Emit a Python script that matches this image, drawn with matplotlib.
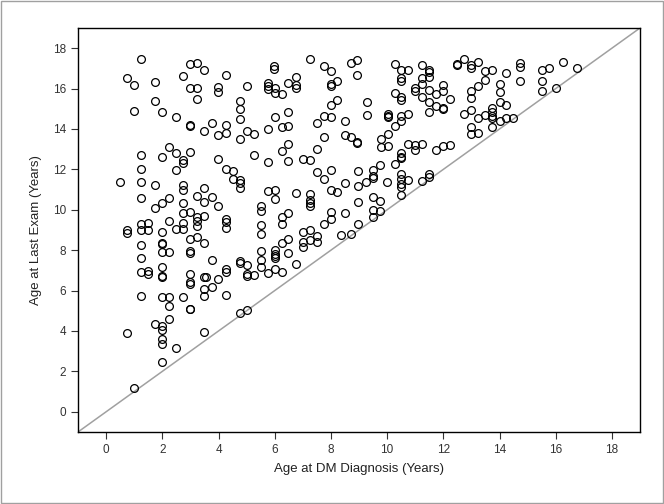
import matplotlib
matplotlib.use('Agg')
import matplotlib.pyplot as plt
from matplotlib.patches import Rectangle

# age at DM diagnosis / age at last exam (years)
age_dx = [
    1.24, 2.98, 3.23, 3.48, 0.75, 0.99, 1.74, 2.73, 2.98, 3.23, 3.97, 3.97,
    1.74, 3.23, 0.99, 1.99, 2.48, 2.98, 2.98, 3.48, 3.76, 3.97, 1.24, 1.99,
    2.24, 2.48, 2.98, 2.73, 2.73, 3.97,
    4.25, 5.00, 5.99, 5.99, 5.75, 5.75, 5.75, 6.01, 6.01, 6.25, 6.49, 6.74,
    6.74, 6.74, 7.24, 7.74, 8.00, 8.73, 8.94, 8.94, 8.00, 8.00, 8.23, 4.76,
    4.76, 4.76, 6.01, 6.49, 8.23, 8.00, 7.74, 8.00, 7.49, 8.50, 6.25, 6.49,
    5.75, 4.25, 4.25, 5.00, 5.25, 4.76, 7.74, 8.50, 8.73, 8.94, 8.94, 6.49,
    6.25, 7.49, 5.25, 5.75, 6.49, 6.99, 7.24,
    10.27, 10.50, 10.75, 11.25, 11.50, 11.50, 10.50, 10.50, 11.25, 11.50,
    11.25, 11.00, 11.00, 11.50, 11.75, 12.00, 12.00, 12.24, 10.27, 10.50,
    10.50, 11.25, 11.50, 11.75, 12.00, 12.00, 11.50, 9.28, 9.28, 10.02,
    10.02, 10.02, 10.50, 10.75, 10.50, 10.27, 10.02, 9.77, 9.77, 10.02,
    10.75, 11.00, 11.25, 11.00, 11.75, 12.00, 12.24, 10.50, 10.50, 10.50,
    9.76, 10.27,
    12.49, 12.49, 12.75, 12.99, 12.99, 13.23, 13.49, 13.73, 13.49, 13.23,
    12.99, 12.99, 12.75, 12.99, 13.23, 13.49, 13.73, 13.73, 13.73, 13.73,
    13.73, 12.99, 12.99, 13.23,
    14.00, 14.00, 14.00, 14.00, 14.23, 14.23, 14.23, 14.48, 14.73, 14.73,
    14.73, 15.51, 15.76, 15.51, 15.51, 16.00, 16.25, 16.75,
    1.24, 2.48, 0.49, 1.24, 1.74, 2.73, 2.73, 3.48, 1.24, 1.74, 1.99, 2.24,
    2.73, 3.23, 3.48, 3.76, 3.97, 2.73, 2.98, 3.23, 3.23, 3.23, 3.48, 2.24,
    2.48, 2.73, 2.73, 1.24, 1.49, 1.24, 1.49, 0.75, 0.75, 1.99, 1.99, 1.99,
    1.24, 2.98, 3.23, 3.48, 1.99, 2.24, 2.98, 2.98, 1.24, 3.76, 1.24, 1.49,
    1.49, 1.99, 1.99, 1.99, 2.98, 2.98, 2.98, 3.48, 3.55, 3.97, 3.48, 3.76,
    1.24, 1.99, 2.24, 2.73, 3.48,
    2.24, 2.98, 2.98, 1.74, 1.99, 2.24, 1.99, 0.75, 3.48, 1.99, 1.99, 2.48,
    1.99, 0.99, 4.76, 5.00,
    4.25, 4.51, 4.51, 4.76, 4.76, 4.76, 5.75, 6.01, 6.01, 6.74, 7.24, 7.24,
    7.24, 7.24, 7.49, 7.74, 8.00, 8.00, 8.23, 8.50, 8.97, 8.97, 8.97, 8.97,
    5.50, 5.50, 6.25, 6.49, 6.25, 5.50, 5.50, 4.25, 4.25, 4.25, 8.00, 8.50,
    7.74, 8.00, 8.35, 8.73, 6.99, 7.24, 7.49, 7.49, 7.24, 6.99, 6.99, 6.49,
    6.25, 5.50, 6.01, 6.01, 6.01, 6.01, 6.49, 5.50, 6.74, 5.50, 4.76, 4.76,
    5.00, 4.25, 4.25, 5.00, 5.00, 5.25, 5.75, 6.01, 6.25, 4.25,
    9.51, 9.51, 9.51, 9.26, 10.00, 10.50, 10.50, 10.75, 10.50, 10.50, 11.25,
    11.50, 11.50, 9.51, 9.76, 9.51, 9.76, 9.51, 10.50,
]
age_exam = [
    17.44, 17.21, 17.26, 16.90, 16.50, 16.16, 16.32, 16.60, 16.01, 16.01, 16.10, 15.81,
    15.38, 15.47, 14.89, 14.83, 14.58, 14.14, 14.19, 13.90, 14.28, 13.71, 12.71, 12.62,
    13.10, 12.82, 12.85, 12.30, 12.47, 12.52,
    16.67, 16.11, 17.13, 16.96, 16.30, 16.14, 16.00, 16.01, 15.76, 15.71, 16.27, 16.55,
    16.17, 16.04, 17.44, 17.10, 16.85, 17.26, 17.39, 16.67, 16.24, 16.11, 16.36, 15.38,
    14.97, 14.48, 14.58, 14.84, 15.43, 15.17, 14.63, 14.58, 14.28, 14.40, 14.09, 14.14,
    14.00, 14.19, 13.81, 13.90, 13.74, 13.51, 13.59, 13.69, 13.59, 13.35, 13.31, 13.25,
    12.90, 13.02, 12.71, 12.36, 12.41, 12.51, 12.48,
    17.21, 16.93, 16.93, 17.16, 16.93, 16.83, 16.50, 16.36, 16.52, 16.55,
    16.22, 16.01, 15.88, 15.91, 15.71, 16.17, 15.89, 15.47, 15.76, 15.57,
    15.42, 15.57, 15.34, 15.12, 15.05, 15.01, 14.83, 15.35, 14.68, 14.73,
    14.60, 14.64, 14.64, 14.73, 14.38, 14.17, 13.76, 13.48, 13.10, 13.15,
    13.26, 13.21, 13.26, 12.95, 12.97, 13.15, 13.20, 12.80, 12.59, 12.55,
    12.23, 12.28,
    17.16, 17.20, 17.46, 17.16, 17.01, 17.34, 16.85, 16.90, 16.44, 16.11,
    15.86, 15.53, 14.74, 14.93, 14.56, 14.71, 15.02, 14.83, 14.66, 14.53,
    14.10, 14.09, 13.74, 13.79,
    16.25, 15.81, 15.32, 14.40, 16.77, 15.17, 14.53, 14.53, 17.26, 17.06,
    16.36, 16.90, 17.00, 16.36, 15.86, 16.01, 17.34, 17.00,
    12.02, 11.97, 11.38, 11.38, 11.23, 11.23, 10.96, 11.08, 10.59, 10.11, 10.34, 10.59,
    10.34, 10.69, 10.39, 10.64, 10.19, 9.85, 9.90, 9.65, 9.45, 9.21, 9.70, 9.45,
    9.06, 9.35, 9.06, 9.30, 9.35, 9.01, 9.01, 8.99, 8.86, 8.91, 8.37, 8.30,
    8.27, 8.57, 8.66, 8.37, 7.92, 7.92, 7.97, 7.87, 7.63, 7.53, 6.94, 6.99,
    6.82, 7.18, 6.72, 6.68, 6.84, 6.43, 6.33, 6.69, 6.69, 6.56, 6.07, 6.16,
    5.75, 5.66, 5.66, 5.69, 5.75,
    5.26, 5.08, 5.11, 4.34, 4.27, 4.57, 4.03, 3.90, 3.94, 3.60, 3.37, 3.14,
    2.47, 1.17, 4.87, 5.03,
    12.02, 11.93, 11.52, 11.45, 11.34, 11.08, 10.93, 10.96, 10.55, 10.83, 10.78, 10.50,
    10.36, 10.21, 11.88, 11.52, 11.98, 11.00, 10.88, 11.33, 11.92, 11.16, 10.39, 9.29,
    10.20, 9.94, 9.65, 9.85, 9.29, 9.26, 8.81, 9.52, 9.38, 9.12, 9.88, 9.85,
    9.30, 9.52, 8.76, 8.81, 8.91, 9.01, 8.69, 8.40, 8.51, 8.42, 8.17, 8.57,
    8.37, 7.97, 8.00, 7.81, 7.71, 7.59, 7.87, 7.53, 7.30, 7.18, 7.48, 7.38,
    7.25, 7.05, 6.94, 6.80, 6.74, 6.76, 6.85, 7.09, 6.90, 5.80,
    11.95, 11.69, 11.55, 11.38, 11.39, 11.79, 11.54, 11.49, 11.26, 11.13, 11.42,
    11.79, 11.62, 10.65, 10.45, 10.01, 9.95, 9.62, 10.73,
]

ticks = list(range(0, 20, 2))

fig = plt.figure(figsize=(6.64, 5.04), dpi=100)
plt.rcParams['font.family'] = ['Liberation Sans', 'DejaVu Sans']
ax = fig.add_axes([0.1175, 0.1429, 0.8464, 0.8016])

ax.plot([-1, 19], [-1, 19], color='#a0a0a0', lw=1.1, zorder=1)
ax.plot(age_dx, age_exam, 'o', mfc='none', mec='black', ms=5.6, mew=0.9, zorder=2)

ax.set_xlim(-1, 19)
ax.set_ylim(-1, 19)
ax.set_xticks(ticks)
ax.set_yticks(ticks)
ax.tick_params(labelsize=8.5, length=5, width=0.8, colors='#333333')
for s in ax.spines.values():
    s.set_linewidth(1.0)
ax.set_xlabel('Age at DM Diagnosis (Years)', fontsize=9.5, color='#222222', labelpad=5)
ax.set_ylabel('Age at Last Exam (Years)', fontsize=9.5, color='#222222', labelpad=8)

fig.patches.append(Rectangle((0.001, 0.001), 0.997, 0.997, transform=fig.transFigure,
                             fill=False, edgecolor='#a0a0a0', lw=1))

fig.savefig('out.png', dpi=100)
